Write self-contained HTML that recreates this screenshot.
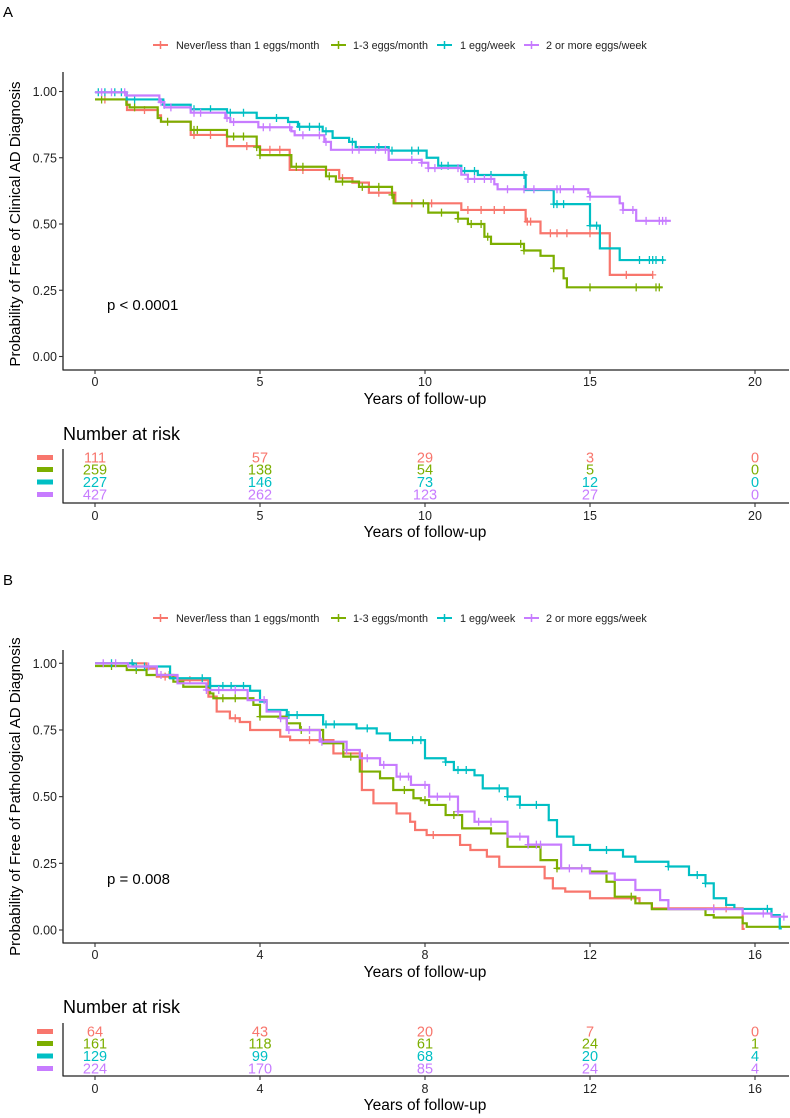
<!DOCTYPE html>
<html><head><meta charset="utf-8">
<style>
html,body{margin:0;padding:0;background:#fff;}
svg{display:block;font-family:"Liberation Sans",Arial,sans-serif;}
</style></head>
<body>
<svg id="fig" width="790" height="1118" viewBox="0 0 790 1118" xmlns="http://www.w3.org/2000/svg">
<g id="panelA"></g>
<g id="panelB"></g>
</svg>
<script>
// ---- shared
const groups = ["Never/less than 1 eggs/month","1-3 eggs/month","1 egg/week","2 or more eggs/week"];
const colors = ["#F8766D","#7CAE00","#00BFC4","#C77CFF"];

// ---- Panel A data: step curves [time, survival]
const aRed   = [[0,0.97],[0.97,0.93],[1.9,0.91],[2.0,0.886],[2.9,0.836],[4.0,0.794],[5.0,0.78],[5.9,0.704],[7.4,0.673],[7.8,0.656],[8.3,0.618],[9.1,0.578],[11.1,0.553],[13.05,0.509],[13.5,0.465],[15.6,0.308],[16.9,0.308]];
const aGreen = [[0,0.97],[0.95,0.95],[1.05,0.94],[1.9,0.90],[2.0,0.886],[2.9,0.855],[4.0,0.83],[4.9,0.79],[5.0,0.76],[5.95,0.716],[7.0,0.68],[7.3,0.66],[8.0,0.64],[9.0,0.61],[9.05,0.578],[10.1,0.543],[11.0,0.52],[11.3,0.50],[11.8,0.452],[12.0,0.425],[13.0,0.40],[13.5,0.38],[13.9,0.333],[14.2,0.295],[14.3,0.261],[17.2,0.261]];
const aCyan  = [[0,0.997],[0.96,0.97],[2.07,0.95],[2.9,0.933],[4.0,0.92],[4.9,0.90],[5.85,0.885],[6.15,0.867],[6.9,0.85],[7.2,0.825],[7.7,0.81],[7.9,0.79],[8.9,0.777],[10.05,0.75],[10.4,0.72],[11.1,0.70],[11.6,0.685],[13.05,0.628],[13.9,0.575],[15.0,0.494],[15.3,0.408],[15.9,0.364],[17.25,0.364]];
const aPurple= [[0,0.997],[0.95,0.985],[1.95,0.96],[2.1,0.94],[2.9,0.92],[3.95,0.90],[4.1,0.885],[4.95,0.865],[5.95,0.85],[6.05,0.835],[6.95,0.81],[7.15,0.78],[8.9,0.742],[9.9,0.731],[10.1,0.711],[11.1,0.686],[11.3,0.67],[12.1,0.65],[12.2,0.631],[14.95,0.618],[15.0,0.603],[15.9,0.578],[16.0,0.553],[16.4,0.512],[17.45,0.512]];
const aCensRed    = [0.3,1.5,3.0,3.5,4.6,5.3,5.6,6.3,7.5,8.6,9.6,10.2,11.3,11.7,12.1,12.4,13.1,13.2,13.8,14.0,14.3,15.0,16.1,16.9];
const aCensGreen  = [0.2,1.2,2.2,3.0,3.1,4.2,4.5,4.9,5.0,6.1,6.3,7.1,7.5,8.1,8.6,9.0,9.95,10.5,11.0,11.4,11.7,11.9,12.9,13.0,13.9,15.0,16.4,17.0,17.1];
const aCensCyan   = [0.1,0.3,0.6,0.8,1.2,2.1,3.0,3.5,4.1,4.5,5.5,6.2,6.5,6.8,7.0,7.8,8.6,9.0,9.6,9.8,10.5,10.7,11.2,11.5,12.0,13.0,13.9,14.0,14.2,15.0,15.2,16.5,16.8,16.9,17.0,17.2];
const aCensPurple = [0.2,0.5,0.9,2.0,2.3,3.0,3.2,4.0,4.2,5.1,5.3,5.9,6.3,6.8,7.0,7.8,8.0,8.5,8.8,9.6,9.9,10.1,10.3,11.0,11.3,11.5,11.8,12.0,12.5,13.0,13.3,14.0,14.1,14.5,15.0,16.0,16.3,16.7,17.1,17.2,17.3];
const aRisk = [[111,57,29,3,0],[259,138,54,5,0],[227,146,73,12,0],[427,262,123,27,0]];
const aRiskTimes = [0,5,10,15,20];
const aXTicks = [0,5,10,15,20];
const yTicks = [0,0.25,0.5,0.75,1.0];
const yTickLabels = ["0.00","0.25","0.50","0.75","1.00"];

// ---- Panel B data
const bRed   = [[0,1.0],[1.25,0.98],[1.5,0.95],[2.0,0.937],[2.75,0.875],[2.95,0.819],[3.27,0.794],[3.51,0.78],[3.76,0.75],[4.49,0.725],[4.73,0.712],[5.78,0.662],[6.47,0.525],[6.75,0.475],[7.31,0.437],[7.64,0.406],[7.76,0.375],[8.04,0.356],[8.85,0.319],[9.1,0.30],[9.5,0.275],[9.8,0.237],[10.9,0.194],[11.1,0.156],[11.4,0.144],[12.0,0.119],[13.2,0.10],[13.5,0.081],[15.7,0.004],[15.75,0.004]];
const bGreen = [[0,0.99],[0.77,0.975],[1.25,0.956],[1.9,0.931],[2.14,0.912],[2.79,0.887],[2.87,0.869],[3.84,0.844],[4.0,0.80],[4.65,0.775],[4.97,0.75],[5.53,0.70],[6.02,0.65],[6.42,0.594],[6.91,0.569],[7.23,0.525],[7.72,0.494],[7.9,0.487],[8.1,0.469],[8.5,0.431],[8.9,0.381],[9.6,0.362],[10.0,0.312],[10.8,0.262],[11.2,0.231],[12.0,0.219],[12.4,0.181],[12.6,0.125],[13.1,0.10],[13.5,0.078],[14.8,0.056],[15.0,0.047],[15.7,0.025],[15.8,0.012],[16.9,0.012]];
const bCyan  = [[0,1.0],[0.93,0.988],[1.82,0.944],[2.79,0.915],[3.76,0.897],[4.0,0.856],[4.16,0.825],[4.65,0.806],[5.53,0.771],[6.34,0.756],[6.83,0.737],[7.15,0.712],[8.0,0.644],[8.5,0.63],[8.7,0.60],[9.2,0.58],[9.4,0.531],[10.0,0.50],[10.3,0.469],[11.0,0.412],[11.2,0.35],[11.6,0.319],[12.0,0.30],[12.8,0.275],[13.1,0.256],[13.9,0.238],[14.4,0.206],[14.8,0.175],[15.0,0.119],[15.3,0.094],[15.5,0.079],[16.4,0.056],[16.6,0.006],[16.65,0.006]];
const bPurple= [[0,1.0],[0.8,0.988],[1.5,0.956],[2.0,0.925],[2.7,0.90],[3.7,0.862],[4.16,0.819],[4.49,0.794],[4.65,0.75],[5.45,0.706],[6.1,0.675],[6.42,0.644],[6.91,0.619],[7.31,0.575],[7.66,0.544],[8.1,0.50],[8.8,0.444],[9.2,0.406],[10.0,0.35],[10.5,0.32],[11.3,0.231],[12.0,0.212],[12.6,0.188],[13.1,0.15],[13.7,0.112],[13.9,0.078],[15.7,0.062],[16.4,0.05],[16.8,0.05]];
const bCensRed    = [0.9,1.7,2.3,3.4,5.2,8.2,15.0,15.3];
const bCensGreen  = [0.4,1.0,1.8,2.7,3.1,3.4,4.0,5.0,6.2,7.5,8.0,8.7,11.2,13.0];
const bCensCyan   = [0.4,0.9,1.0,1.2,2.6,2.8,3.1,3.3,3.6,4.7,4.9,5.6,5.8,6.6,7.7,7.9,8.5,8.8,9.0,9.8,10.0,10.3,10.7,12.4,13.9,14.6,14.8,16.3];
const bCensPurple = [0.2,0.5,1.3,1.6,2.7,3.0,3.4,4.1,4.5,4.7,5.2,5.5,6.1,6.6,7.0,7.4,7.6,8.0,8.3,8.6,8.8,9.3,9.6,10.3,10.5,10.7,10.8,11.5,11.8,15.0,16.2,16.7];
const bRisk = [[64,43,20,7,0],[161,118,61,24,1],[129,99,68,20,4],[224,170,85,24,4]];
const bRiskTimes = [0,4,8,12,16];
const bXTicks = [0,4,8,12,16];

const NS = "http://www.w3.org/2000/svg";
function mk(parent, tag, attrs, text){
  const e = document.createElementNS(NS, tag);
  for (const k in attrs) e.setAttribute(k, attrs[k]);
  if (text !== undefined) e.textContent = text;
  parent.appendChild(e);
  return e;
}
function stepAt(curve, t){
  let v = curve[0][1];
  for (const p of curve){ if (p[0] <= t) v = p[1]; else break; }
  return v;
}

function drawPanel(g, cfg){
  const xs = t => cfg.x0 + cfg.xk * t;
  const ys = v => cfg.y0 - cfg.yk * v;
  let e = mk(g,"text",{x:3,y:cfg.letterY,"font-size":15,fill:"#000"},cfg.letter);
  
  
  // legend
  const lg = mk(g,"g",{});
  
  
  const symX = [153,331,437,524];
  const txtX = [176,353,460,546];
  for (let i=0;i<4;i++){
    const it = mk(lg,"g",{});
    
    
    mk(it,"line",{x1:symX[i],x2:symX[i]+15,y1:cfg.legY,y2:cfg.legY,stroke:colors[i],"stroke-width":2});
    mk(it,"line",{x1:symX[i]+7.5,x2:symX[i]+7.5,y1:cfg.legY-4,y2:cfg.legY+4,stroke:colors[i],"stroke-width":1.5});
    mk(it,"text",{x:txtX[i],y:cfg.legY+4,"font-size":10.8,fill:"#222"},groups[i]);
  }
  // axes
  const ax = mk(g,"g",{});
  
  
  mk(ax,"line",{x1:cfg.axX,x2:cfg.axX,y1:cfg.axTop,y2:cfg.axY+0.5,stroke:"#222","stroke-width":1.3});
  mk(ax,"line",{x1:cfg.axX,x2:789,y1:cfg.axY,y2:cfg.axY,stroke:"#222","stroke-width":1.3});
  yTicks.forEach((v,i)=>{
    mk(ax,"line",{x1:cfg.axX-4,x2:cfg.axX,y1:ys(v),y2:ys(v),stroke:"#333","stroke-width":1.1});
    const t = mk(ax,"text",{x:cfg.axX-6,y:ys(v)+4.5,"font-size":12.5,"text-anchor":"end",fill:"#222"},yTickLabels[i]);
    
    
  });
  cfg.xTicks.forEach(v=>{
    mk(ax,"line",{x1:xs(v),x2:xs(v),y1:cfg.axY,y2:cfg.axY+4,stroke:"#333","stroke-width":1.1});
    const t = mk(ax,"text",{x:xs(v),y:cfg.axY+16,"font-size":12.5,"text-anchor":"middle",fill:"#222"},String(v));
    
    
  });
  e = mk(ax,"text",{x:425,y:cfg.axY+34,"font-size":15.5,"text-anchor":"middle",fill:"#000"},"Years of follow-up");
  
  
  const ymid = (ys(0)+ys(1))/2;
  e = mk(ax,"text",{x:0,y:0,"font-size":15,"text-anchor":"middle",fill:"#000",transform:`translate(20,${ymid}) rotate(-90)`},cfg.yTitle);
  
  
  // curves
  cfg.curves.forEach((c,i)=>{
    const sg = mk(g,"g",{});
    
    
    let d = "M"+xs(c[0][0])+","+ys(c[0][1]);
    for (let k=1;k<c.length;k++){
      d += " H"+xs(c[k][0])+" V"+ys(c[k][1]);
    }
    mk(sg,"path",{d:d,fill:"none",stroke:colors[i],"stroke-width":2.2});
    cfg.cens[i].forEach(t=>{
      const px = xs(t), py = ys(stepAt(c,t));
      const m = mk(sg,"path",{d:`M${px},${py-4}V${py+4}M${px-3.5},${py}H${px+3.5}`,stroke:colors[i],"stroke-width":1.3});
      
      
    });
  });
  e = mk(g,"text",{x:107,y:cfg.pY,"font-size":15,fill:"#000"},cfg.pText);
  
  
  // risk table
  const rt = mk(g,"g",{});
  
  
  e = mk(rt,"text",{x:63,y:cfg.rTitleY,"font-size":18,fill:"#000"},"Number at risk");
  
  
  mk(rt,"line",{x1:cfg.axX,x2:cfg.axX,y1:cfg.rTop,y2:cfg.rAxY+0.5,stroke:"#222","stroke-width":1.3});
  mk(rt,"line",{x1:cfg.axX,x2:789,y1:cfg.rAxY,y2:cfg.rAxY,stroke:"#222","stroke-width":1.3});
  cfg.risk.forEach((row,i)=>{
    const ry = cfg.rRows[i];
    const b = mk(rt,"rect",{x:37,y:ry-2.5,width:16,height:5,fill:colors[i]});
    
    
    row.forEach((n,j)=>{
      const t = mk(rt,"text",{x:xs(cfg.rTimes[j]),y:ry+5,"font-size":14.5,"text-anchor":"middle",fill:colors[i]},String(n));
      
      
    });
  });
  cfg.xTicks.forEach(v=>{
    mk(rt,"line",{x1:xs(v),x2:xs(v),y1:cfg.rAxY,y2:cfg.rAxY+4,stroke:"#333","stroke-width":1.1});
    mk(rt,"text",{x:xs(v),y:cfg.rAxY+17,"font-size":12.5,"text-anchor":"middle",fill:"#222"},String(v));
  });
  e = mk(rt,"text",{x:425,y:cfg.rAxY+34,"font-size":15.5,"text-anchor":"middle",fill:"#000"},"Years of follow-up");
  
  
}

drawPanel(document.getElementById("panelA"),{
  letter:"A", letterY:17, legY:45,
  x0:95, xk:33.0, y0:356.5, yk:265,
  axX:63, axTop:72, axY:370, xTicks:aXTicks,
  yTitle:"Probability of Free of Clinical AD Diagnosis",
  curves:[aRed,aGreen,aCyan,aPurple],
  cens:[aCensRed,aCensGreen,aCensCyan,aCensPurple],
  pText:"p < 0.0001", pY:310,
  rTitleY:440, rTop:449, rAxY:503, rRows:[457.5,469.5,482,494.5],
  risk:aRisk, rTimes:aRiskTimes
});
drawPanel(document.getElementById("panelB"),{
  letter:"B", letterY:585, legY:618,
  x0:95, xk:41.25, y0:930, yk:266.7,
  axX:63, axTop:650, axY:943, xTicks:bXTicks,
  yTitle:"Probability of Free of Pathological AD Diagnosis",
  curves:[bRed,bGreen,bCyan,bPurple],
  cens:[bCensRed,bCensGreen,bCensCyan,bCensPurple],
  pText:"p = 0.008", pY:884,
  rTitleY:1013, rTop:1023, rAxY:1076, rRows:[1031.5,1043.5,1056,1068.5],
  risk:bRisk, rTimes:bRiskTimes
});
</script>
</body></html>
